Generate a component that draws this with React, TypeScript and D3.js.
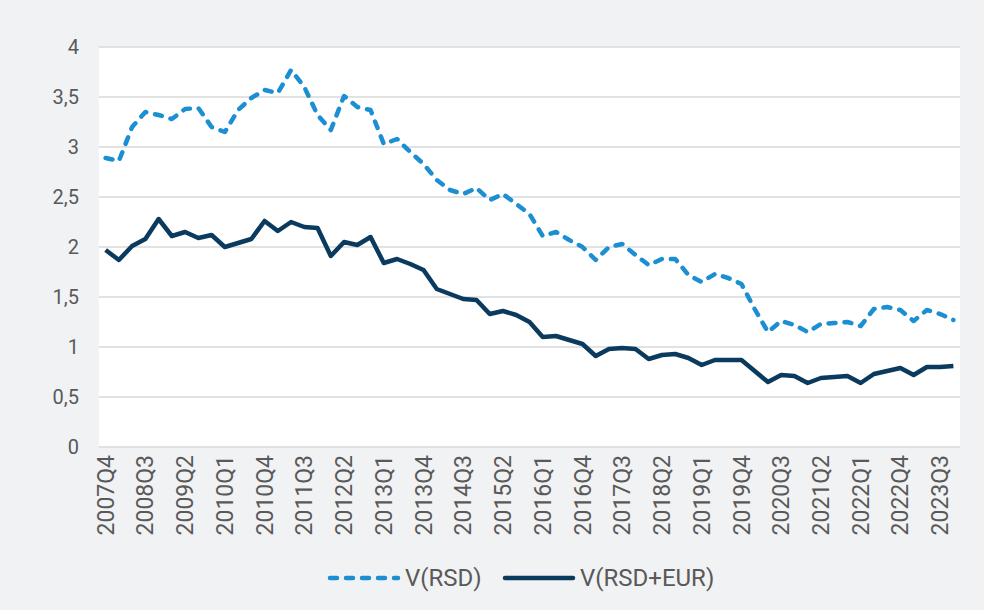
import React from "react";
import * as d3 from "d3";

const quarters: string[] = [
  "2007Q4",
  "2008Q1", "2008Q2", "2008Q3", "2008Q4",
  "2009Q1", "2009Q2", "2009Q3", "2009Q4",
  "2010Q1", "2010Q2", "2010Q3", "2010Q4",
  "2011Q1", "2011Q2", "2011Q3", "2011Q4",
  "2012Q1", "2012Q2", "2012Q3", "2012Q4",
  "2013Q1", "2013Q2", "2013Q3", "2013Q4",
  "2014Q1", "2014Q2", "2014Q3", "2014Q4",
  "2015Q1", "2015Q2", "2015Q3", "2015Q4",
  "2016Q1", "2016Q2", "2016Q3", "2016Q4",
  "2017Q1", "2017Q2", "2017Q3", "2017Q4",
  "2018Q1", "2018Q2", "2018Q3", "2018Q4",
  "2019Q1", "2019Q2", "2019Q3", "2019Q4",
  "2020Q1", "2020Q2", "2020Q3", "2020Q4",
  "2021Q1", "2021Q2", "2021Q3", "2021Q4",
  "2022Q1", "2022Q2", "2022Q3", "2022Q4",
  "2023Q1", "2023Q2", "2023Q3", "2023Q4",
];

const vRSD: number[] = [
  2.89, 2.86, 3.2, 3.35, 3.32, 3.28, 3.38, 3.39, 3.2, 3.15,
  3.37, 3.49, 3.57, 3.54, 3.77, 3.6, 3.32, 3.17, 3.51, 3.4,
  3.37, 3.03, 3.08, 2.95, 2.83, 2.67, 2.57, 2.53, 2.59, 2.47,
  2.53, 2.43, 2.33, 2.11, 2.15, 2.07, 2.0, 1.87, 2.0, 2.03,
  1.92, 1.82, 1.88, 1.88, 1.72, 1.65, 1.73, 1.69, 1.63, 1.38,
  1.15, 1.26, 1.22, 1.15, 1.23, 1.24, 1.25, 1.21, 1.38, 1.4,
  1.37, 1.26, 1.37, 1.33, 1.27,
];

const vRSDEUR: number[] = [
  1.97, 1.87, 2.01, 2.08, 2.28, 2.11, 2.15, 2.09, 2.12, 2.0,
  2.04, 2.08, 2.26, 2.16, 2.25, 2.2, 2.19, 1.91, 2.05, 2.02,
  2.1, 1.84, 1.88, 1.83, 1.77, 1.58, 1.53, 1.48, 1.47, 1.33,
  1.36, 1.32, 1.25, 1.1, 1.11, 1.07, 1.03, 0.91, 0.98, 0.99,
  0.98, 0.88, 0.92, 0.93, 0.89, 0.82, 0.87, 0.87, 0.87, 0.76,
  0.65, 0.72, 0.71, 0.64, 0.69, 0.7, 0.71, 0.64, 0.73, 0.76,
  0.79, 0.72, 0.8, 0.8, 0.81,
];

const yTicks: number[] = [0, 0.5, 1, 1.5, 2, 2.5, 3, 3.5, 4];
const seriesNames: string[] = ["V(RSD)", "V(RSD+EUR)"];

const W = 984;
const H = 610;
const plot = { left: 99, right: 960, top: 47, bottom: 447 };
const FONT = "Roboto, 'Noto Sans', sans-serif";
const TEXT = "#595959";
const C_LIGHT = "#1b8fd2";
const C_DARK = "#0b3a5f";

export default function App() {
  const x = d3
    .scalePoint<string>()
    .domain(quarters)
    .range([plot.left, plot.right])
    .padding(0.5);
  const y = d3.scaleLinear().domain([0, 4]).range([plot.bottom, plot.top]);

  const line = d3
    .line<number>()
    .x((_, i) => x(quarters[i]) as number)
    .y((d) => y(d));

  const fmt = (v: number) => String(v).replace(".", ",");

  return (
    <svg
      width={W}
      height={H}
      style={{ position: "absolute", left: 0, top: 0, display: "block" }}
      fontFamily={FONT}
    >
      <rect x={0} y={0} width={W} height={H} fill="#f1f2f4" />
      <rect
        x={plot.left}
        y={plot.top}
        width={plot.right - plot.left}
        height={plot.bottom - plot.top}
        fill="#ffffff"
      />
      {yTicks.map((t) => (
        <g key={t}>
          <line
            x1={plot.left}
            x2={plot.right}
            y1={y(t)}
            y2={y(t)}
            stroke="#d9d9d9"
            strokeWidth={1.5}
          />
          <text
            x={79}
            y={y(t)}
            dy="0.35em"
            textAnchor="end"
            fontSize={20}
            fill={TEXT}
          >
            {fmt(t)}
          </text>
        </g>
      ))}
      {quarters.map((q, i) =>
        i % 3 === 0 ? (
          <text
            key={q}
            transform={`translate(${x(q)},${plot.bottom + 8}) rotate(-90)`}
            dy="0.35em"
            textAnchor="end"
            fontSize={23}
            fill={TEXT}
          >
            {q}
          </text>
        ) : null
      )}
      <path
        d={line(vRSD) || ""}
        fill="none"
        stroke={C_LIGHT}
        strokeWidth={4.5}
        strokeDasharray="7 9"
        strokeLinecap="round"
        strokeLinejoin="round"
      />
      <path
        d={line(vRSDEUR) || ""}
        fill="none"
        stroke={C_DARK}
        strokeWidth={4.5}
        strokeLinejoin="round"
      />
      <g>
        <line
          x1={330}
          x2={398}
          y1={578}
          y2={578}
          stroke={C_LIGHT}
          strokeWidth={4.5}
          strokeDasharray="7 9"
          strokeLinecap="round"
        />
        <text x={405} y={578} dy="0.35em" fontSize={24} fill={TEXT}>
          {seriesNames[0]}
        </text>
        <line
          x1={505}
          x2={573}
          y1={578}
          y2={578}
          stroke={C_DARK}
          strokeWidth={4.5}
          strokeLinecap="round"
        />
        <text x={580} y={578} dy="0.35em" fontSize={24} fill={TEXT}>
          {seriesNames[1]}
        </text>
      </g>
    </svg>
  );
}
